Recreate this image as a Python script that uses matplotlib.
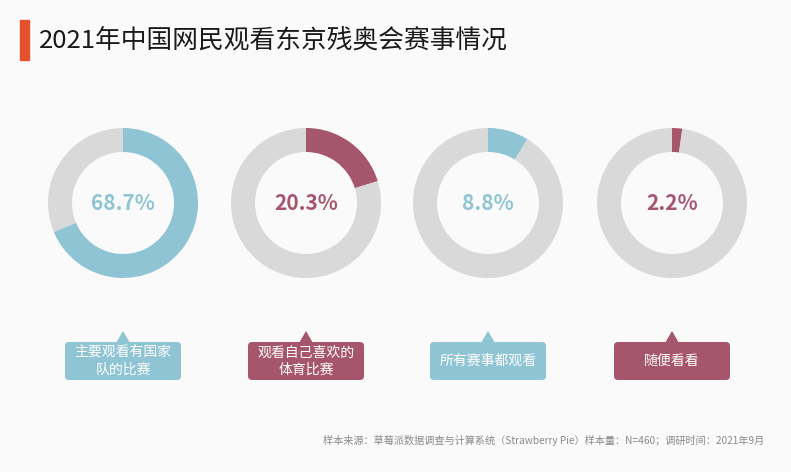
import matplotlib
matplotlib.use("Agg")
import matplotlib.pyplot as plt
from matplotlib.patches import FancyBboxPatch, Polygon, Rectangle

plt.rcParams['font.family'] = ['Noto Sans CJK SC', 'DejaVu Sans']

# --- 数据 ---
title = "2021年中国网民观看东京残奥会赛事情况"
labels = ["主要观看有国家\n队的比赛", "观看自己喜欢的\n体育比赛", "所有赛事都观看", "随便看看"]
values = [68.7, 20.3, 8.8, 2.2]
colors = ["#8ec4d4", "#a6566c", "#8ec4d4", "#a6566c"]
source = "样本来源：草莓派数据调查与计算系统（Strawberry Pie）样本量：N=460；调研时间：2021年9月"

W, H = 791, 472
bg = "#fafafa"
ring_gray = "#d9d9d9"

fig = plt.figure(figsize=(W / 100, H / 100), dpi=100)
fig.patch.set_facecolor(bg)

# 背景坐标轴，按像素布局
base = fig.add_axes([0, 0, 1, 1])
base.set_xlim(0, W)
base.set_ylim(H, 0)
base.axis("off")

# 标题和红色竖条
base.add_patch(Rectangle((20, 20), 9, 40, color="#e4512d"))
base.text(39, 41, title, fontsize=18.5, va="center", ha="left", color="#1a1a1a")

centers = [123, 306, 488, 672]
cy, r = 203, 75
box_w, box_h, box_top = 116, 38, 342

for cx, val, col, lab in zip(centers, values, colors, labels):
    ax = fig.add_axes([(cx - r) / W, 1 - (cy + r) / H, 2 * r / W, 2 * r / H])
    ax.pie([val, 100 - val], colors=[col, ring_gray], startangle=90,
           counterclock=False, radius=1,
           wedgeprops=dict(width=0.32, edgecolor="none"))
    ax.set_xlim(-1, 1)
    ax.set_ylim(-1, 1)
    ax.set_aspect("equal")
    ax.text(0, 0, f"{val}%", ha="center", va="center", fontsize=15,
            color=col, fontweight="semibold")

    # 标签框 + 小三角
    x0 = cx - box_w / 2
    base.add_patch(FancyBboxPatch((x0, box_top), box_w, box_h,
                                  boxstyle="round,pad=0,rounding_size=4",
                                  facecolor=col, edgecolor="none"))
    base.add_patch(Polygon([(cx - 7, box_top + 1), (cx + 7, box_top + 1), (cx, box_top - 11)],
                           closed=True, facecolor=col, edgecolor="none"))
    base.text(cx, box_top + box_h / 2, lab, ha="center", va="center",
              fontsize=10, color="white", linespacing=1.3)

base.text(764, 440, source, ha="right", va="center", fontsize=7.3, color="#8a8a8a")

fig.savefig("out.png", dpi=100, facecolor=bg)
